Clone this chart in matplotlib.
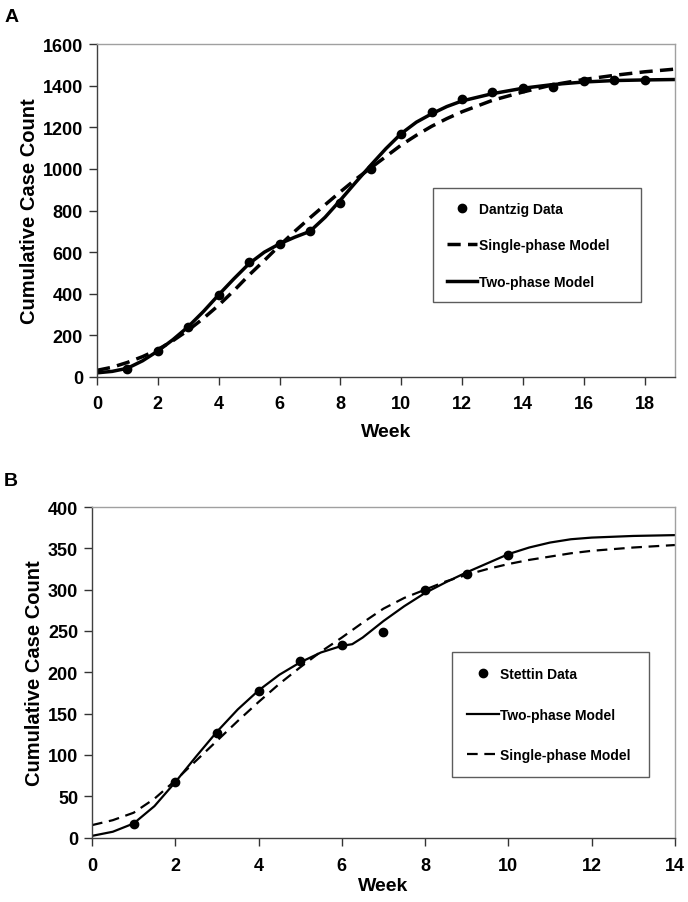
import matplotlib.pyplot as plt

plt.rcParams['font.family'] = ['Liberation Sans', 'DejaVu Sans']
plt.rcParams['font.weight'] = 'bold'

# Panel A - Dantzig
dantzig_weeks = [1, 2, 3, 4, 5, 6, 7, 8, 9, 10, 11, 12, 13, 14, 15, 16, 17, 18]
dantzig_cases = [40, 125, 240, 392, 552, 640, 700, 838, 1002, 1170, 1276, 1334, 1370, 1387, 1396, 1422, 1426, 1430]

model_weeks_a = [0, 0.5, 1, 1.5, 2, 2.5, 3, 3.5, 4, 4.5, 5, 5.5, 6, 6.5, 7, 7.5, 8, 8.5, 9, 9.5,
                 10, 10.5, 11, 11.5, 12, 13, 14, 15, 16, 17, 18, 19]
single_a = [32, 47, 70, 98, 132, 175, 225, 282, 345, 415, 490, 560, 632, 700, 765, 828, 890, 950,
            1005, 1060, 1115, 1162, 1205, 1242, 1275, 1330, 1370, 1405, 1430, 1450, 1467, 1480]
two_a = [20, 27, 42, 78, 125, 180, 242, 315, 395, 472, 545, 600, 640, 672, 700, 768, 850, 935,
         1018, 1098, 1170, 1225, 1265, 1300, 1327, 1362, 1388, 1406, 1418, 1425, 1428, 1430]

# Panel B - Stettin
stettin_weeks = [1, 2, 3, 4, 5, 6, 7, 8, 9, 10]
stettin_cases = [16, 67, 126, 177, 214, 233, 249, 300, 319, 342]

model_weeks_b = [0, 0.5, 1, 1.5, 2, 2.5, 3, 3.5, 4, 4.5, 5, 5.5, 6, 6.25, 6.5, 7, 7.5, 8, 8.5, 9, 9.5,
                 10, 10.5, 11, 11.5, 12, 13, 14]
two_b = [2, 7, 17, 38, 67, 98, 128, 155, 178, 197, 212, 224, 232, 234, 242, 262, 280, 296, 309, 321, 332,
         343, 351, 357, 361, 363, 365, 366]
single_b = [15, 21, 30, 47, 69, 93, 117, 141, 164, 186, 206, 225, 242, 251, 260, 277, 290, 300, 310, 318, 325,
            331, 336, 340, 344, 347, 351, 354]

fig = plt.figure(figsize=(6.88, 9.03), dpi=100)
ax1 = fig.add_axes([0.141, 0.5814, 0.840, 0.3686])
ax2 = fig.add_axes([0.1337, 0.0714, 0.8473, 0.3660])

for ax, xpad, wpad in ((ax1, 7, 8), (ax2, 8, 2)):
    for side in ('top', 'right'):
        ax.spines[side].set_color('#a0a0a0')
    for side in ('left', 'bottom'):
        ax.spines[side].set_color('#404040')
    for s in ax.spines.values():
        s.set_linewidth(1.0)
    ax.tick_params(direction='out', length=6, width=1, pad=4, labelsize=13, colors='#333333', labelcolor='black')
    ax.tick_params(axis='x', pad=xpad)
    ax.set_xlabel('Week', fontsize=14, fontweight='bold', labelpad=wpad)
    ax.set_ylabel('Cumulative Case Count', fontsize=14.5, fontweight='bold', labelpad=3)

# A
ax1.plot(dantzig_weeks, dantzig_cases, 'o', color='black', markersize=6, label='Dantzig Data', zorder=3)
ax1.plot(model_weeks_a, single_a, color='black', lw=2.5, dashes=(3.8, 2.1), label='Single-phase Model')
ax1.plot(model_weeks_a, two_a, color='black', lw=2.5, label='Two-phase Model')
ax1.set_xlim(0, 19)
ax1.set_ylim(0, 1600)
ax1.set_xticks(range(0, 19, 2))
ax1.set_yticks(range(0, 1601, 200))
leg1 = ax1.legend(loc='lower left', bbox_to_anchor=(0.581, 0.224, 0.36, 0.356), mode='expand',
                  frameon=True, fancybox=False, edgecolor='#333333', prop={'weight': 'bold', 'size': 10},
                  labelspacing=1.6, handlelength=2.2, handletextpad=0.1, borderpad=1.0, borderaxespad=0)
leg1.get_frame().set_linewidth(1.0)

# B
ax2.plot(stettin_weeks, stettin_cases, 'o', color='black', markersize=6, label='Stettin Data', zorder=3)
ax2.plot(model_weeks_b, two_b, color='black', lw=1.6, label='Two-phase Model')
ax2.plot(model_weeks_b, single_b, color='black', lw=1.6, dashes=(4.8, 3), label='Single-phase Model')
ax2.set_xlim(0, 14)
ax2.set_ylim(0, 400)
ax2.set_xticks(range(0, 15, 2))
ax2.set_yticks(range(0, 401, 50))
leg2 = ax2.legend(loc='lower left', bbox_to_anchor=(0.617, 0.182, 0.338, 0.385), mode='expand',
                  frameon=True, fancybox=False, edgecolor='#333333', prop={'weight': 'bold', 'size': 10},
                  labelspacing=1.9, handlelength=2.3, handletextpad=0.1, borderpad=1.1, borderaxespad=0)
leg2.get_frame().set_linewidth(1.0)

for ax in (ax1, ax2):
    for lab in ax.get_xticklabels() + ax.get_yticklabels():
        lab.set_fontweight('bold')

fig.text(0.006, 0.990, 'A', fontsize=14, fontweight='bold', va='top')
fig.text(0.006, 0.476, 'B', fontsize=14, fontweight='bold', va='top')

fig.savefig('out.png', dpi=100)
